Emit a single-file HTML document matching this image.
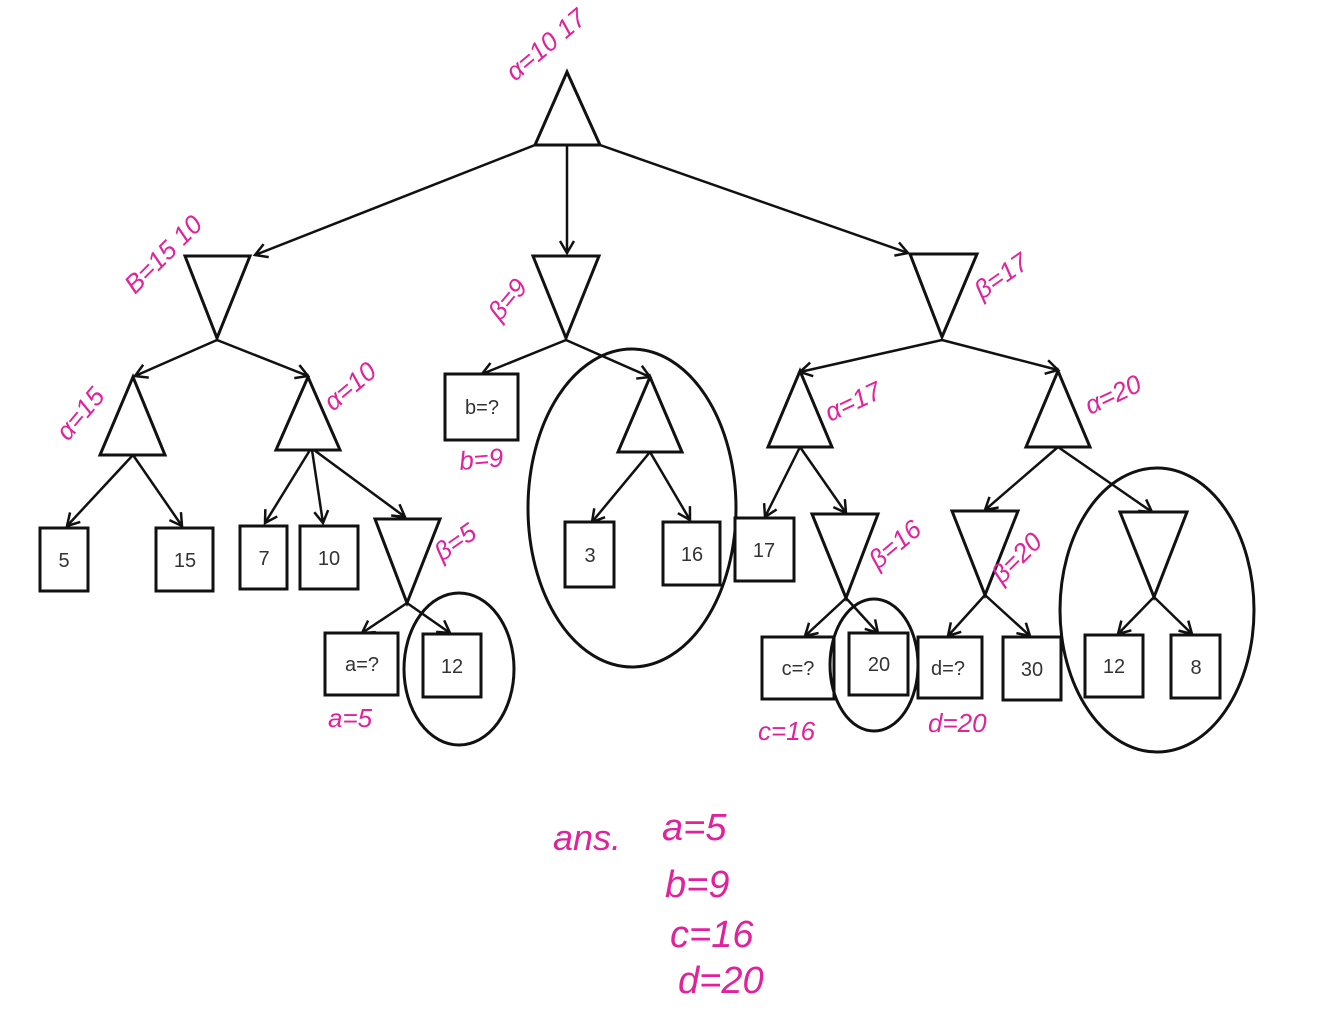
<!DOCTYPE html>
<html><head><style>
html,body{margin:0;padding:0;background:#fff;}
svg{display:block;}
.n{fill:none;stroke:#111;stroke-width:3;}
.e{stroke:#111;stroke-width:2.5;fill:none;marker-end:url(#a);}
.b{fill:#fff;stroke:#111;stroke-width:3;}
.t{font-family:"Liberation Sans",sans-serif;font-size:20px;fill:#333;text-anchor:middle;}
.m{font-family:"Liberation Sans",sans-serif;font-style:italic;font-size:26px;fill:#e0229c;}
</style></head><body>
<svg width="1344" height="1020" viewBox="0 0 1344 1020">
<defs><marker id="a" markerWidth="20" markerHeight="20" refX="14" refY="8" orient="auto" markerUnits="userSpaceOnUse"><polyline points="2,1 14,8 2,15" fill="none" stroke="#111" stroke-width="2.5"/></marker></defs>
<!-- root -->
<polygon class="n" points="567,72 535,145 600,145"/>
<line class="e" x1="535" y1="145" x2="255" y2="255"/>
<line class="e" x1="567" y1="145" x2="567" y2="253"/>
<line class="e" x1="600" y1="145" x2="908" y2="253"/>
<!-- min nodes -->
<polygon class="n" points="185,256 250,256 217,338"/>
<polygon class="n" points="533,256 599,256 566,338"/>
<polygon class="n" points="910,254 977,254 942,337"/>
<!-- left subtree -->
<line class="e" x1="217" y1="340" x2="135" y2="376"/>
<line class="e" x1="217" y1="340" x2="308" y2="376"/>
<polygon class="n" points="133,377 100,455 165,455"/>
<polygon class="n" points="308,377 276,450 340,450"/>
<line class="e" x1="133" y1="455" x2="67" y2="526"/>
<line class="e" x1="133" y1="455" x2="182" y2="526"/>
<line class="e" x1="310" y1="450" x2="265" y2="523"/>
<line class="e" x1="312" y1="450" x2="323" y2="523"/>
<line class="e" x1="314" y1="450" x2="405" y2="517"/>
<rect class="b" x="40" y="528" width="48" height="63"/><text class="t" x="64" y="567">5</text>
<rect class="b" x="156" y="528" width="57" height="63"/><text class="t" x="185" y="567">15</text>
<rect class="b" x="240" y="526" width="47" height="63"/><text class="t" x="264" y="565">7</text>
<rect class="b" x="300" y="526" width="58" height="63"/><text class="t" x="329" y="565">10</text>
<polygon class="n" points="375,519 440,519 407,603"/>
<line class="e" x1="407" y1="603" x2="362" y2="633"/>
<line class="e" x1="407" y1="603" x2="450" y2="633"/>
<rect class="b" x="325" y="633" width="73" height="62"/><text class="t" x="362" y="671">a=?</text>
<rect class="b" x="423" y="634" width="58" height="63"/><text class="t" x="452" y="673">12</text>
<ellipse class="n" cx="459" cy="669" rx="55" ry="76" stroke-width="2.5"/>
<!-- middle subtree -->
<line class="e" x1="566" y1="340" x2="482" y2="374"/>
<line class="e" x1="566" y1="340" x2="650" y2="377"/>
<rect class="b" x="445" y="374" width="73" height="66"/><text class="t" x="482" y="414">b=?</text>
<polygon class="n" points="650,377 618,452 682,452"/>
<line class="e" x1="650" y1="452" x2="592" y2="522"/>
<line class="e" x1="650" y1="452" x2="690" y2="520"/>
<rect class="b" x="565" y="522" width="49" height="65"/><text class="t" x="590" y="562">3</text>
<rect class="b" x="663" y="522" width="57" height="63"/><text class="t" x="692" y="561">16</text>
<ellipse class="n" cx="632" cy="508" rx="104" ry="159" stroke-width="2.5"/>
<!-- right subtree -->
<line class="e" x1="942" y1="340" x2="800" y2="372"/>
<line class="e" x1="942" y1="340" x2="1058" y2="370"/>
<polygon class="n" points="800,371 768,447 832,447"/>
<polygon class="n" points="1058,371 1026,447 1090,447"/>
<line class="e" x1="800" y1="447" x2="765" y2="517"/>
<line class="e" x1="800" y1="447" x2="846" y2="513"/>
<rect class="b" x="735" y="518" width="59" height="63"/><text class="t" x="764" y="557">17</text>
<polygon class="n" points="812,514 878,514 846,598"/>
<line class="e" x1="846" y1="598" x2="805" y2="636"/>
<line class="e" x1="846" y1="598" x2="878" y2="633"/>
<rect class="b" x="762" y="637" width="72" height="62"/><text class="t" x="798" y="675">c=?</text>
<rect class="b" x="849" y="633" width="59" height="62"/><text class="t" x="879" y="671">20</text>
<ellipse class="n" cx="874" cy="665" rx="44" ry="66" stroke-width="2.5"/>
<line class="e" x1="1058" y1="447" x2="985" y2="510"/>
<line class="e" x1="1058" y1="447" x2="1152" y2="512"/>
<polygon class="n" points="952,511 1018,511 985,595"/>
<polygon class="n" points="1120,512 1187,512 1154,597"/>
<line class="e" x1="985" y1="595" x2="948" y2="636"/>
<line class="e" x1="985" y1="595" x2="1030" y2="636"/>
<line class="e" x1="1154" y1="597" x2="1118" y2="634"/>
<line class="e" x1="1154" y1="597" x2="1192" y2="634"/>
<rect class="b" x="918" y="637" width="64" height="61"/><text class="t" x="948" y="675">d=?</text>
<rect class="b" x="1003" y="637" width="58" height="63"/><text class="t" x="1032" y="676">30</text>
<rect class="b" x="1085" y="635" width="58" height="62"/><text class="t" x="1114" y="673">12</text>
<rect class="b" x="1171" y="635" width="49" height="63"/><text class="t" x="1196" y="674">8</text>
<ellipse class="n" cx="1157" cy="610" rx="97" ry="142" stroke-width="2.5"/>
<!-- annotations -->
<text class="m" transform="translate(515,82) rotate(-40)">α=10 17</text>
<text class="m" transform="translate(135,295) rotate(-45)">B=15 10</text>
<text class="m" transform="translate(500,322) rotate(-50)">β=9</text>
<text class="m" transform="translate(982,300) rotate(-35)">β=17</text>
<text class="m" transform="translate(68,442) rotate(-50)">α=15</text>
<text class="m" transform="translate(333,412) rotate(-40)">α=10</text>
<text class="m" x="460" y="470" transform="rotate(-5 460 470)">b=9</text>
<text class="m" transform="translate(830,422) rotate(-25)">α=17</text>
<text class="m" transform="translate(1090,415) rotate(-25)">α=20</text>
<text class="m" transform="translate(442,562) rotate(-35)">β=5</text>
<text class="m" transform="translate(878,570) rotate(-40)">β=16</text>
<text class="m" transform="translate(1002,585) rotate(-45)">β=20</text>
<text class="m" x="328" y="727">a=5</text>
<text class="m" x="758" y="740">c=16</text>
<text class="m" x="928" y="732">d=20</text>
<text class="m" x="553" y="850" style="font-size:36px">ans.</text>
<text class="m" x="662" y="840" style="font-size:38px">a=5</text>
<text class="m" x="665" y="897" style="font-size:38px">b=9</text>
<text class="m" x="670" y="947" style="font-size:38px">c=16</text>
<text class="m" x="678" y="993" style="font-size:38px">d=20</text>
</svg>
</body></html>
